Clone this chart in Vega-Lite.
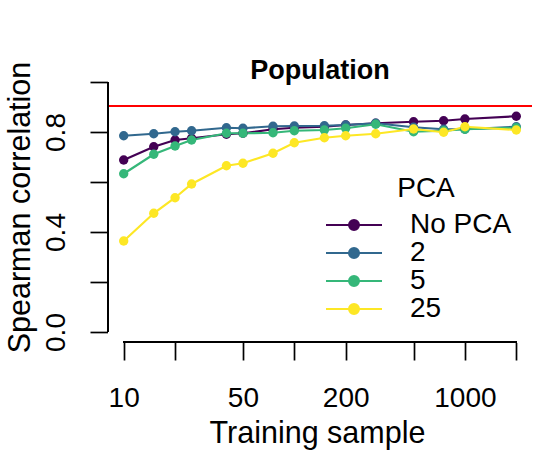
{
  "$schema": "https://vega.github.io/schema/vega-lite/v6.json",
  "width": 424,
  "height": 270,
  "autosize": {"type": "none"},
  "padding": {"left": 108, "top": 72, "right": 8, "bottom": 108},
  "background": "white",
  "config": {
    "font": "Liberation Sans",
    "view": {"stroke": null},
    "axis": {"grid": false}
  },
  "title": {
    "text": "Population",
    "font": "Liberation Sans",
    "fontSize": 27,
    "fontWeight": "bold",
    "color": "black",
    "anchor": "middle",
    "baseline": "alphabetic",
    "offset": 0,
    "dy": 45
  },
  "data": {
    "values": [
      {"n": 10, "pca": "No PCA", "rho": 0.688},
      {"n": 15, "pca": "No PCA", "rho": 0.741},
      {"n": 20, "pca": "No PCA", "rho": 0.768},
      {"n": 25, "pca": "No PCA", "rho": 0.775},
      {"n": 40, "pca": "No PCA", "rho": 0.791},
      {"n": 50, "pca": "No PCA", "rho": 0.795},
      {"n": 75, "pca": "No PCA", "rho": 0.811},
      {"n": 100, "pca": "No PCA", "rho": 0.817},
      {"n": 150, "pca": "No PCA", "rho": 0.821},
      {"n": 200, "pca": "No PCA", "rho": 0.828},
      {"n": 300, "pca": "No PCA", "rho": 0.835},
      {"n": 500, "pca": "No PCA", "rho": 0.841},
      {"n": 750, "pca": "No PCA", "rho": 0.845},
      {"n": 1000, "pca": "No PCA", "rho": 0.852},
      {"n": 2000, "pca": "No PCA", "rho": 0.863},
      {"n": 10, "pca": "2", "rho": 0.785},
      {"n": 15, "pca": "2", "rho": 0.793},
      {"n": 20, "pca": "2", "rho": 0.801},
      {"n": 25, "pca": "2", "rho": 0.805},
      {"n": 40, "pca": "2", "rho": 0.817},
      {"n": 50, "pca": "2", "rho": 0.815},
      {"n": 75, "pca": "2", "rho": 0.823},
      {"n": 100, "pca": "2", "rho": 0.824},
      {"n": 150, "pca": "2", "rho": 0.825},
      {"n": 200, "pca": "2", "rho": 0.828},
      {"n": 300, "pca": "2", "rho": 0.835},
      {"n": 500, "pca": "2", "rho": 0.819},
      {"n": 750, "pca": "2", "rho": 0.811},
      {"n": 1000, "pca": "2", "rho": 0.811},
      {"n": 2000, "pca": "2", "rho": 0.821},
      {"n": 10, "pca": "5", "rho": 0.633},
      {"n": 15, "pca": "5", "rho": 0.711},
      {"n": 20, "pca": "5", "rho": 0.744},
      {"n": 25, "pca": "5", "rho": 0.768},
      {"n": 40, "pca": "5", "rho": 0.795},
      {"n": 50, "pca": "5", "rho": 0.795},
      {"n": 75, "pca": "5", "rho": 0.797},
      {"n": 100, "pca": "5", "rho": 0.805},
      {"n": 150, "pca": "5", "rho": 0.808},
      {"n": 200, "pca": "5", "rho": 0.815},
      {"n": 300, "pca": "5", "rho": 0.831},
      {"n": 500, "pca": "5", "rho": 0.801},
      {"n": 750, "pca": "5", "rho": 0.805},
      {"n": 1000, "pca": "5", "rho": 0.811},
      {"n": 2000, "pca": "5", "rho": 0.817},
      {"n": 10, "pca": "25", "rho": 0.364},
      {"n": 15, "pca": "25", "rho": 0.475},
      {"n": 20, "pca": "25", "rho": 0.537},
      {"n": 25, "pca": "25", "rho": 0.592},
      {"n": 40, "pca": "25", "rho": 0.665},
      {"n": 50, "pca": "25", "rho": 0.675},
      {"n": 75, "pca": "25", "rho": 0.715},
      {"n": 100, "pca": "25", "rho": 0.757},
      {"n": 150, "pca": "25", "rho": 0.777},
      {"n": 200, "pca": "25", "rho": 0.785},
      {"n": 300, "pca": "25", "rho": 0.793},
      {"n": 500, "pca": "25", "rho": 0.812},
      {"n": 750, "pca": "25", "rho": 0.799},
      {"n": 1000, "pca": "25", "rho": 0.821},
      {"n": 2000, "pca": "25", "rho": 0.808}
    ]
  },
  "layer": [
    {
      "mark": {"type": "rule", "color": "#FF0000", "strokeWidth": 1.7},
      "encoding": {"y": {"datum": 0.905, "type": "quantitative"}}
    },
    {
      "mark": {"type": "line", "strokeWidth": 2.2},
      "encoding": {
        "x": {
          "field": "n", "type": "quantitative",
          "scale": {"type": "log", "domain": [8.091, 2472.3], "nice": false, "zero": false},
          "axis": {
            "title": "Training sample",
            "titleFont": "Liberation Sans",
            "titleFontSize": 30.5,
            "titleFontWeight": "normal",
            "titleColor": "black",
            "titleBaseline": "alphabetic",
            "titleAnchor": null,
            "titleX": 209,
            "titleY": 99.7,
            "titleAlign": "center",
            "values": [10, 20, 50, 100, 200, 500, 1000, 2000],
            "labelExpr": "(datum.value == 10 || datum.value == 50 || datum.value == 200 || datum.value == 1000) ? format(datum.value, 'd') : ''",
            "labelFont": "Liberation Sans",
            "labelFontSize": 28,
            "labelColor": "black",
            "labelBaseline": "alphabetic",
            "labelPadding": 46.7,
            "labelOverlap": false,
            "labelFlush": false,
            "domain": false,
            "ticks": true,
            "tickSize": 17.5,
            "tickWidth": 1.7,
            "tickColor": "black",
            "offset": 0.5
          }
        },
        "y": {
          "field": "rho", "type": "quantitative",
          "scale": {"domain": [-0.04, 1.04], "nice": false, "zero": false},
          "axis": {
            "title": "Spearman correlation",
            "titleFont": "Liberation Sans",
            "titleFontSize": 30.5,
            "titleFontWeight": "normal",
            "titleColor": "black",
            "titleAngle": -90,
            "titleBaseline": "alphabetic",
            "titleAlign": "center",
            "titleAnchor": null,
            "titleX": -78,
            "titleY": 135,
            "values": [0, 0.2, 0.4, 0.6, 0.8, 1.0],
            "labelExpr": "(abs(datum.value) < 0.001 || abs(datum.value - 0.4) < 0.001 || abs(datum.value - 0.8) < 0.001) ? format(datum.value, '.1f') : ''",
            "labelFont": "Liberation Sans",
            "labelFontSize": 28,
            "labelColor": "black",
            "labelAngle": -90,
            "labelAlign": "center",
            "labelBaseline": "alphabetic",
            "labelPadding": 26,
            "labelOverlap": false,
            "labelFlush": false,
            "domain": false,
            "ticks": true,
            "tickSize": 17.5,
            "tickWidth": 1.7,
            "tickColor": "black",
            "offset": 0.5
          }
        },
        "color": {
          "field": "pca", "type": "nominal",
          "scale": {"domain": ["No PCA", "2", "5", "25"], "range": ["#440154", "#31688E", "#35B779", "#FDE725"]},
          "legend": {
            "orient": "none",
            "legendX": 232,
            "legendY": 103,
            "title": "PCA",
            "titleFont": "Liberation Sans",
            "titleFontSize": 28,
            "titleFontWeight": "normal",
            "titleColor": "black",
            "titleAnchor": "middle",
            "titlePadding": 8,
            "labelFont": "Liberation Sans",
            "labelFontSize": 28,
            "labelColor": "black",
            "labelOffset": 42,
            "rowPadding": 0,
            "padding": 0,
            "symbolType": "M-4,0L4,0M-0.7,0A0.7,0.7,0,1,0,0.7,0A0.7,0.7,0,1,0,-0.7,0Z",
            "symbolSize": 196,
            "symbolStrokeWidth": 2.2,
            "encode": {
              "symbols": {
                "update": {
                  "fill": {"scale": "color", "field": "value"},
                  "stroke": {"scale": "color", "field": "value"},
                  "opacity": {"value": 1}
                }
              }
            }
          }
        }
      }
    },
    {
      "mark": {"type": "point", "filled": true, "size": 88, "opacity": 1},
      "encoding": {
        "x": {"field": "n", "type": "quantitative"},
        "y": {"field": "rho", "type": "quantitative"},
        "color": {"field": "pca", "type": "nominal"}
      }
    },
    {
      "mark": {"type": "rule", "color": "black", "strokeWidth": 1.7},
      "encoding": {
        "x": {"datum": 8.091, "type": "quantitative"},
        "y": {"datum": 0, "type": "quantitative"},
        "y2": {"datum": 1}
      }
    },
    {
      "mark": {"type": "rule", "color": "black", "strokeWidth": 1.7},
      "encoding": {
        "y": {"datum": -0.04, "type": "quantitative"},
        "x": {"datum": 10, "type": "quantitative"},
        "x2": {"datum": 2000}
      }
    }
  ]
}
